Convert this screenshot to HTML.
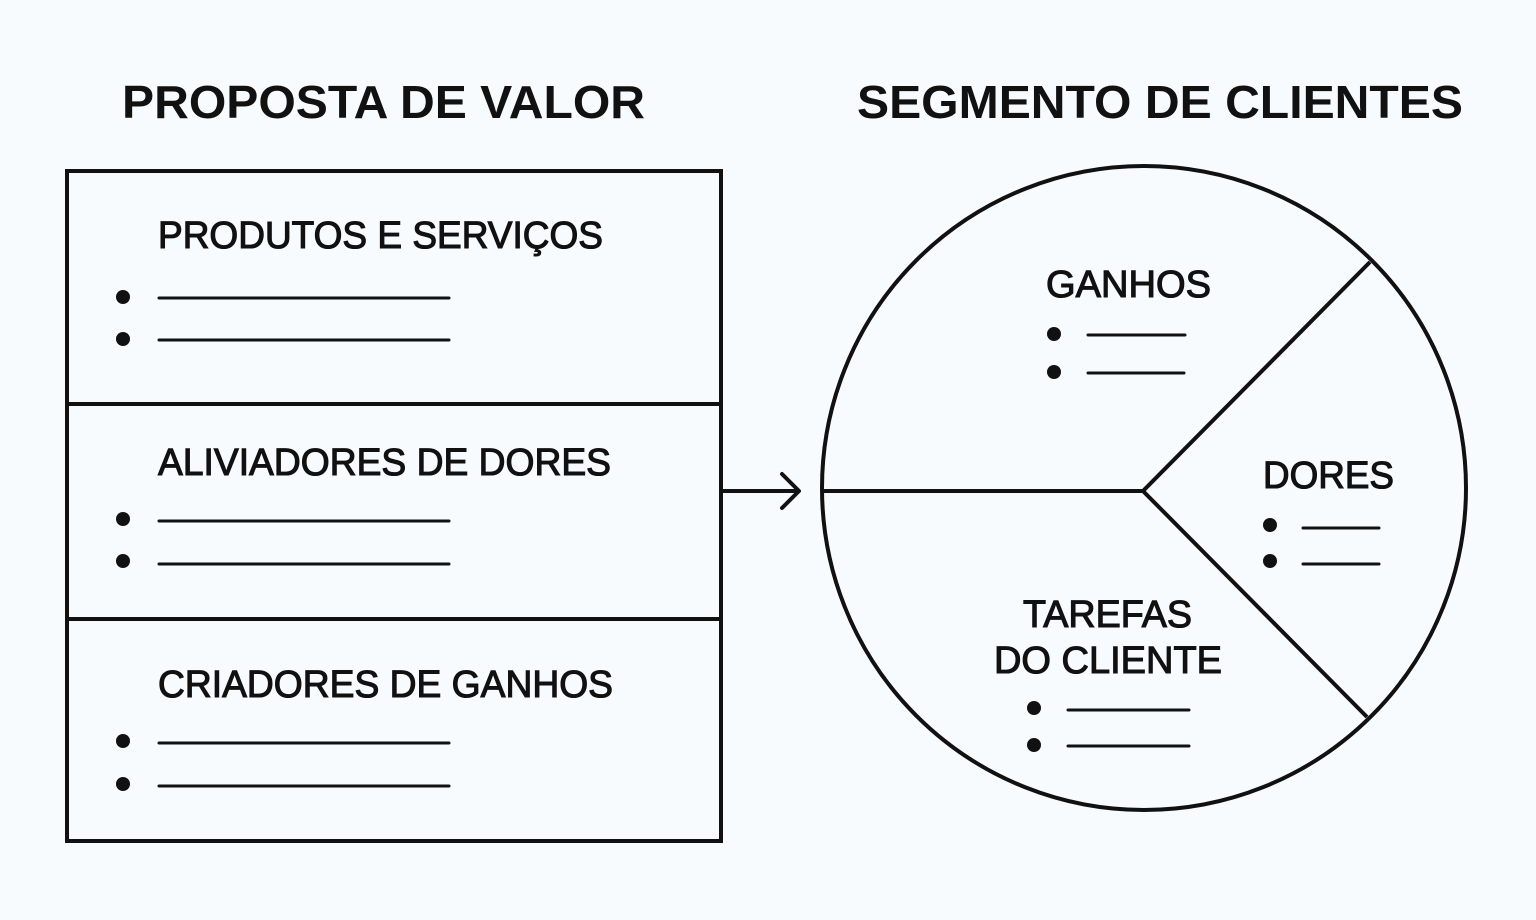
<!DOCTYPE html>
<html><head><meta charset="utf-8"><style>html,body{margin:0;padding:0;background:#f8fbfd}svg{display:block}</style></head>
<body>
<svg width="1536" height="920" viewBox="0 0 1536 920" xmlns="http://www.w3.org/2000/svg">
<rect width="1536" height="920" fill="#f8fbfd"/>
<g font-family="Liberation Sans, sans-serif" fill="#111">
<text x="122" y="118" font-size="46" font-weight="bold" textLength="523" lengthAdjust="spacingAndGlyphs">PROPOSTA DE VALOR</text>
<text x="857" y="118" font-size="46" font-weight="bold" textLength="606" lengthAdjust="spacingAndGlyphs">SEGMENTO DE CLIENTES</text>
<g font-size="38" stroke="#111" stroke-width="1.1">
<text x="158" y="248" textLength="445" lengthAdjust="spacingAndGlyphs">PRODUTOS E SERVIÇOS</text>
<text x="158" y="475" textLength="453" lengthAdjust="spacingAndGlyphs">ALIVIADORES DE DORES</text>
<text x="158" y="697" textLength="455" lengthAdjust="spacingAndGlyphs">CRIADORES DE GANHOS</text>
<text x="1046" y="297" textLength="165" lengthAdjust="spacingAndGlyphs">GANHOS</text>
<text x="1263" y="488" textLength="131" lengthAdjust="spacingAndGlyphs">DORES</text>
<text x="1023" y="627" textLength="169" lengthAdjust="spacingAndGlyphs">TAREFAS</text>
<text x="994" y="673" textLength="228" lengthAdjust="spacingAndGlyphs">DO CLIENTE</text>
</g>
</g>
<g fill="none" stroke="#111" stroke-width="4">
<rect x="67" y="171" width="654" height="670"/>
<line x1="67" y1="404" x2="721" y2="404"/>
<line x1="67" y1="619" x2="721" y2="619"/>
<line x1="723" y1="491" x2="799" y2="491"/>
<polyline points="782,474 799,491 782,508" stroke-linecap="round" stroke-linejoin="round"/>
<circle cx="1144" cy="488" r="322"/>
<polyline points="822,491 1143,491 1370,262"/>
<line x1="1143" y1="491" x2="1367" y2="717"/>
</g>
<g stroke="#111" stroke-width="3" stroke-linecap="round">
<line x1="159" y1="298" x2="449" y2="298"/><line x1="159" y1="340" x2="449" y2="340"/>
<line x1="159" y1="521" x2="449" y2="521"/><line x1="159" y1="564" x2="449" y2="564"/>
<line x1="159" y1="743" x2="449" y2="743"/><line x1="159" y1="786" x2="449" y2="786"/>
<line x1="1088" y1="335" x2="1185" y2="335"/><line x1="1088" y1="373" x2="1184" y2="373"/>
<line x1="1303" y1="528" x2="1379" y2="528"/><line x1="1303" y1="564" x2="1379" y2="564"/>
<line x1="1068" y1="710" x2="1189" y2="710"/><line x1="1068" y1="746" x2="1189" y2="746"/>
</g>
<g fill="#111">
<circle cx="123" cy="297" r="7"/><circle cx="123" cy="339" r="7"/>
<circle cx="123" cy="519" r="7"/><circle cx="123" cy="561" r="7"/>
<circle cx="123" cy="741" r="7"/><circle cx="123" cy="784" r="7"/>
<circle cx="1054" cy="334" r="7"/><circle cx="1054" cy="372" r="7"/>
<circle cx="1270" cy="525" r="7"/><circle cx="1270" cy="561" r="7"/>
<circle cx="1034" cy="708" r="7"/><circle cx="1034" cy="745" r="7"/>
</g>
</svg>
</body></html>
